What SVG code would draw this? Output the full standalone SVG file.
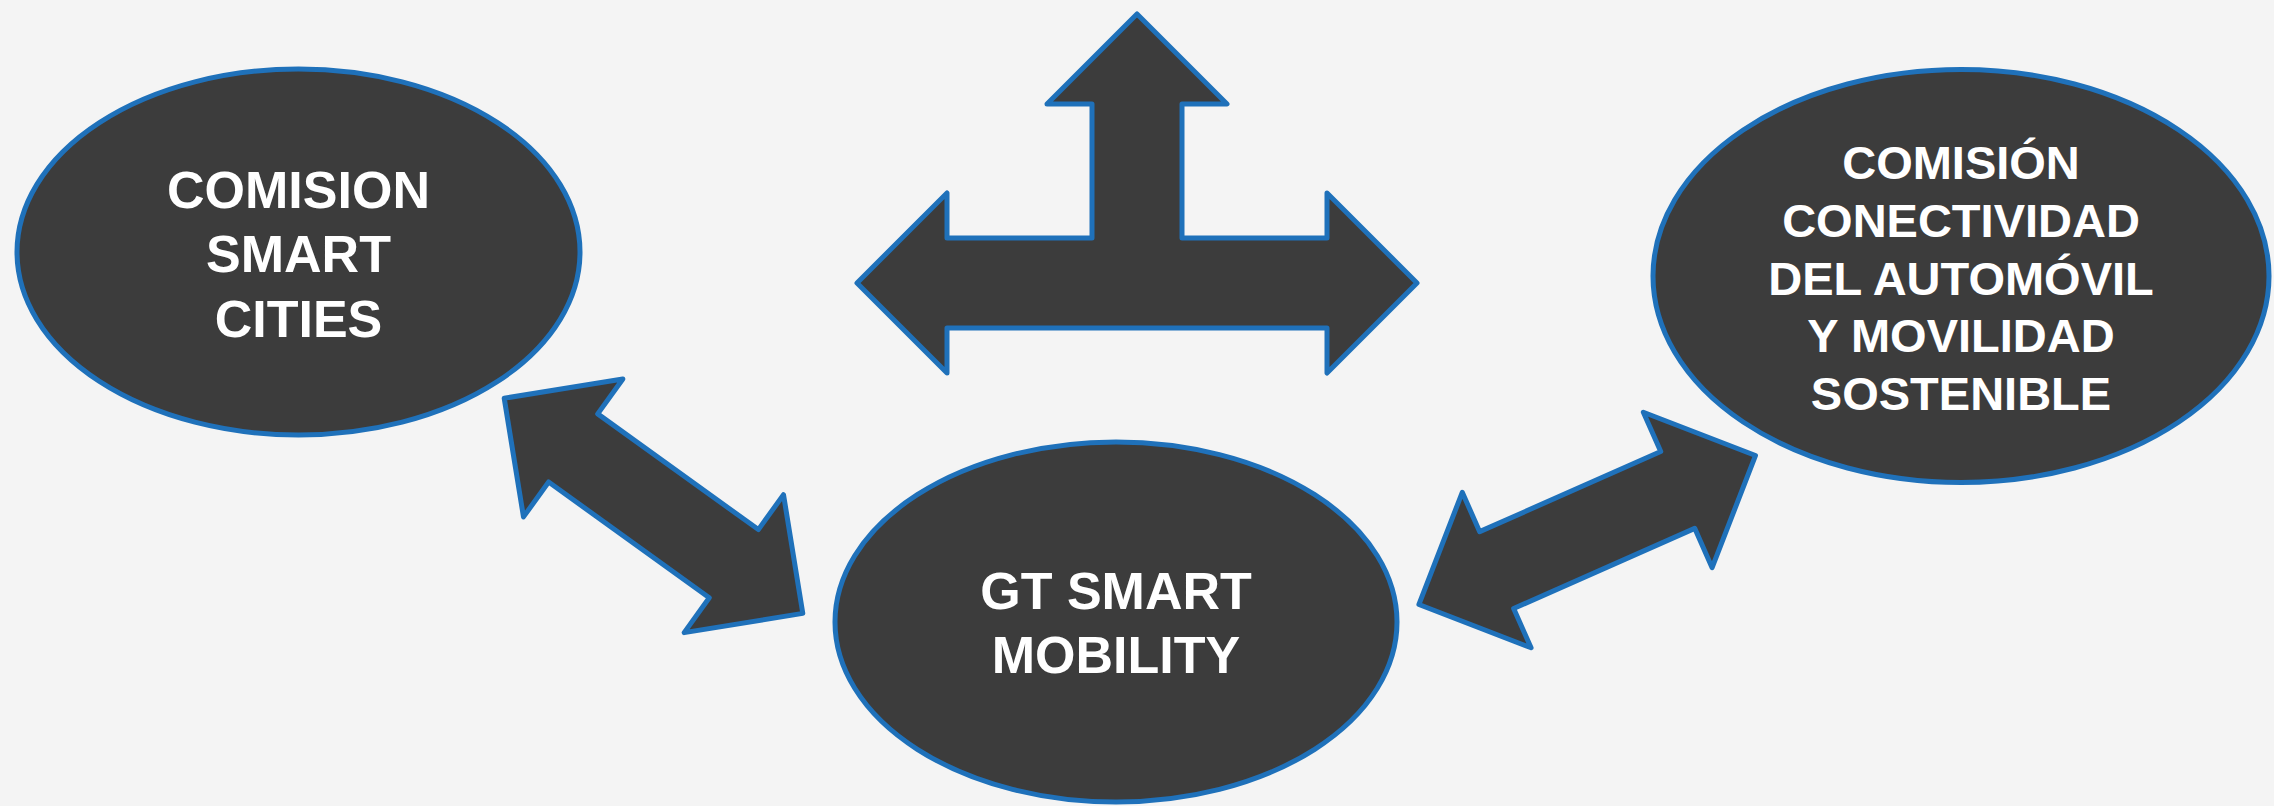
<svg xmlns="http://www.w3.org/2000/svg" width="2274" height="806" viewBox="0 0 2274 806">
<defs>
<style>
.bg{fill:#f4f4f4}
.shape{fill:#3c3c3c;stroke:#1f71ba;stroke-width:5;stroke-linejoin:round}
.lbl{fill:#ffffff;font-family:"Liberation Sans",Arial,sans-serif;font-weight:bold;text-anchor:middle}
.big{font-size:52px}
.mid{font-size:47px}
</style>
<polygon id="dblArrow" points="-184,0 -99,-85 -99,-42 99,-42 99,-85 184,0 99,85 99,42 -99,42 -99,85"/>
</defs>
<rect class="bg" x="0" y="0" width="2274" height="806"/>
<g id="connectors">
<polygon id="t-arrow" class="shape" points="1137,14 1227,104 1182,104 1182,238 1327,238 1327,193 1417,283 1327,373 1327,328 947,328 947,373 857,283 947,193 947,238 1092,238 1092,104 1047,104"/>
<use id="arrow-left" class="shape" href="#dblArrow" transform="translate(653.5,505.8) rotate(35.77)"/>
<use id="arrow-right" class="shape" href="#dblArrow" transform="translate(1587.2,530) rotate(-23.87)"/>
</g>
<g id="node-smart-cities">
<ellipse class="shape" cx="298.5" cy="252" rx="281.5" ry="183"/>
<text class="lbl big" x="298.5" y="208">COMISION</text>
<text class="lbl big" x="298.5" y="272">SMART</text>
<text class="lbl big" x="298.5" y="337">CITIES</text>
</g>
<g id="node-gt-smart-mobility">
<ellipse class="shape" cx="1116" cy="622" rx="281" ry="180"/>
<text class="lbl big" x="1116" y="609">GT SMART</text>
<text class="lbl big" x="1116" y="673">MOBILITY</text>
</g>
<g id="node-conectividad">
<ellipse class="shape" cx="1961" cy="276" rx="308" ry="206.5"/>
<text class="lbl mid" x="1961" y="179">COMISIÓN</text>
<text class="lbl mid" x="1961" y="236.7">CONECTIVIDAD</text>
<text class="lbl mid" x="1961" y="294.5">DEL AUTOMÓVIL</text>
<text class="lbl mid" x="1961" y="352.2">Y MOVILIDAD</text>
<text class="lbl mid" x="1961" y="410">SOSTENIBLE</text>
</g>
</svg>
